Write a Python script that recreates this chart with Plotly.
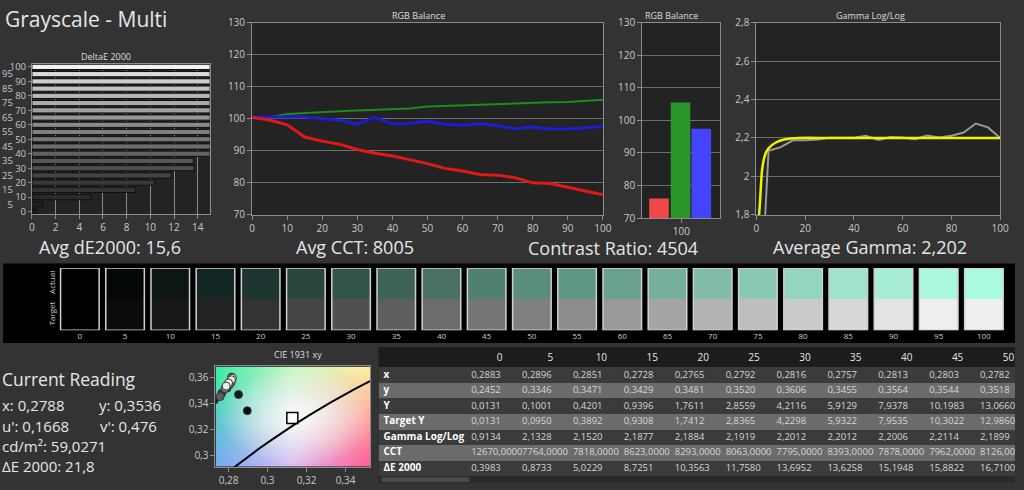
import base64
import plotly.graph_objects as go

# ---------------- data ----------------
LEVELS = [0, 5, 10, 15, 20, 25, 30, 35, 40, 45, 50, 55, 60, 65, 70, 75, 80, 85, 90, 95, 100]
DE2000 = [0.3983, 0.8733, 5.0229, 8.7251, 10.3563, 11.7580, 13.6952, 13.6258, 15.1948, 15.8822,
          16.7100, 17.5, 18.5, 19.5, 20.3, 21.0, 21.8, 22.5, 23.0, 23.4, 21.8]
RED = [100.4, 99.6, 98.1, 94.3, 93.0, 92.0, 90.4, 89.2, 88.4, 87.2, 86.0, 84.5, 83.7, 82.6,
       82.4, 81.6, 80.0, 79.8, 78.7, 77.4, 76.3]
GREEN = [100.3, 100.5, 101.5, 101.7, 102.0, 102.3, 102.6, 102.8, 103.0, 103.2, 103.8, 104.0,
         104.2, 104.5, 104.5, 104.8, 105.0, 105.1, 105.2, 105.6, 105.9]
BLUE = [100.5, 100.4, 100.5, 100.5, 100.1, 99.5, 98.3, 100.4, 98.4, 98.5, 99.2, 98.3, 98.0,
        98.4, 97.8, 96.9, 97.4, 96.8, 96.8, 97.1, 97.6]
BAR_CATEGORY = ["100"]
BAR_RED = [76.0]
BAR_GREEN = [105.5]
BAR_BLUE = [97.4]
GAMMA = [0.9134, 2.1328, 2.1520, 2.1877, 2.1884, 2.1919, 2.2012, 2.2012, 2.2006, 2.2114, 2.1899,
         2.205, 2.202, 2.193, 2.212, 2.203, 2.212, 2.228, 2.275, 2.255, 2.200]
TARGET_GAMMA_X = [1.0, 1.5, 2.4, 3.8, 5.1, 7.8, 11.9, 17.3, 30, 100]
TARGET_GAMMA_Y = [1.78, 1.87, 2.04, 2.12, 2.147, 2.175, 2.193, 2.2, 2.2, 2.2]
CIE_X = [0.2883, 0.2896, 0.2851, 0.2728, 0.2765, 0.2792, 0.2816, 0.2757, 0.2813, 0.2803, 0.2782,
         0.2795, 0.2800, 0.2805, 0.2810, 0.2814, 0.2818, 0.2820, 0.2815, 0.2800, 0.2788]
CIE_Y = [0.2452, 0.3346, 0.3471, 0.3429, 0.3481, 0.3520, 0.3606, 0.3455, 0.3564, 0.3544, 0.3518,
         0.3545, 0.3552, 0.3560, 0.3570, 0.3580, 0.3590, 0.3598, 0.3585, 0.3560, 0.3536]
LOCUS_X = [0.2807, 0.2869, 0.2952, 0.3004, 0.3064, 0.3135, 0.3221, 0.3324, 0.3451, 0.3609]
LOCUS_Y = [0.2884, 0.2956, 0.3048, 0.3103, 0.3166, 0.3236, 0.3318, 0.3410, 0.3516, 0.3640]
WHITE_X = [0.3127]
WHITE_Y = [0.3290]
Y_LUM = [0.0131, 0.1001, 0.4201, 0.9396, 1.7611, 2.8559, 4.2116, 5.9129, 7.9378, 10.1983, 13.0660]
TARGET_Y = [0.0131, 0.0950, 0.3892, 0.9308, 1.7412, 2.8365, 4.2298, 5.9322, 7.9535, 10.3022, 12.9860]
CCT = [12670, 7764, 7818, 8623, 8293, 8063, 7795, 8393, 7878, 7962, 8126]
ROW_LABELS = ["x", "y", "Y", "Target Y", "Gamma Log/Log", "CCT", "ΔE 2000"]
SWATCH_HEIGHT = [1] * 21

# ---------------- styles ----------------
FONT = "Open Sans"
ACTUAL_COLORS = ["#000000", "#030706", "#0c1715", "#132826", "#1c3530", "#28463e", "#33544b",
                 "#3d6257", "#497264", "#508070", "#598c7c", "#5f9684", "#6aa08f", "#75b09d",
                 "#80bca8", "#8ac9b3", "#93d6c0", "#9fe3cc", "#a6ecd6", "#abf8e0", "#a8fae0"]
TARGET_COLORS = ["#000000", "#0b0b0b", "#181818", "#222222", "#333333", "#454545", "#505050",
                 "#5e5e5e", "#6c6c6c", "#767676", "#808080", "#8c8c8c", "#999999", "#a5a5a5",
                 "#b2b2b2", "#bebebe", "#cbcbcb", "#d8d8d8", "#e4e4e4", "#eeeeee", "#efefef"]
DE_BAR_COLORS = ["#1a1a1a", "#202020", "#2a2a2a", "#333333", "#3a3a3a", "#444444", "#4e4e4e",
                 "#585858", "#626262", "#6c6c6c", "#777777", "#818181", "#8b8b8b", "#969696",
                 "#a0a0a0", "#ababab", "#b6b6b6", "#c1c1c1", "#cdcdcd", "#dadada", "#f2f2f2"]

# table geometry (pixel units inside the table area)
TABLE_COL_EDGES = [0, 96.7] + [96.7 + 51.5 * k for k in range(1, 12)]
TABLE_ROW_EDGES = [0, 21, 37, 53, 69, 85, 101, 117, 133]
TABLE_ROW_KIND = [0, 1, 2, 1, 2, 1, 2, 1]   # 0 header, 1 dark row, 2 light row

W, H = 1024, 490


def px(x):
    return x / W


def py(y):
    return 1 - y / H


fig = go.Figure()

# DeltaE bars
fig.add_trace(go.Bar(y=LEVELS, x=DE2000, orientation="h", width=3.6, offset=-1.8,
                     marker=dict(color=DE_BAR_COLORS, line=dict(color="#101010", width=1)),
                     xaxis="x", yaxis="y", hoverinfo="skip"))
fig.add_trace(go.Scatter(x=[0], y=[0], mode="markers", marker=dict(opacity=0),
                         xaxis="x", yaxis="y7", hoverinfo="skip", showlegend=False))

# RGB balance lines
fig.add_trace(go.Scatter(x=LEVELS, y=GREEN, mode="lines", line=dict(color="#1f8a1f", width=2),
                         xaxis="x2", yaxis="y2", hoverinfo="skip"))
fig.add_trace(go.Scatter(x=LEVELS, y=BLUE, mode="lines", line=dict(color="#1c1cd0", width=3),
                         xaxis="x2", yaxis="y2", hoverinfo="skip"))
fig.add_trace(go.Scatter(x=LEVELS, y=RED, mode="lines", line=dict(color="#e01818", width=3),
                         xaxis="x2", yaxis="y2", hoverinfo="skip"))

# RGB balance bars
for vals, col, off in [(BAR_RED, "#f04848", -0.41), (BAR_GREEN, "#2a962a", -0.135),
                       (BAR_BLUE, "#4444ff", 0.13)]:
    fig.add_trace(go.Bar(x=[0], y=vals, width=0.25, offset=off,
                         marker=dict(color=col, line=dict(width=0)),
                         xaxis="x3", yaxis="y3", hoverinfo="skip"))

# Gamma
fig.add_trace(go.Scatter(x=LEVELS, y=GAMMA, mode="lines", line=dict(color="#9a9a9a", width=2),
                         xaxis="x4", yaxis="y4", hoverinfo="skip"))
fig.add_trace(go.Scatter(x=TARGET_GAMMA_X, y=TARGET_GAMMA_Y, mode="lines",
                         line=dict(color="#f2f200", width=2.5, shape="spline", smoothing=0.6),
                         xaxis="x4", yaxis="y4", hoverinfo="skip"))

# CIE
fig.add_trace(go.Scatter(x=LOCUS_X, y=LOCUS_Y, mode="lines", line=dict(color="#000000", width=2),
                         xaxis="x5", yaxis="y5", hoverinfo="skip"))
fig.add_trace(go.Scatter(x=WHITE_X, y=WHITE_Y, mode="markers",
                         marker=dict(symbol="square", size=11, color="rgba(255,255,255,0.35)",
                                     line=dict(color="#000000", width=1.5)),
                         xaxis="x5", yaxis="y5", hoverinfo="skip"))
fig.add_trace(go.Scatter(x=CIE_X, y=CIE_Y, mode="markers",
                         marker=dict(size=8, color=TARGET_COLORS, line=dict(color="#3a3a3a", width=1)),
                         xaxis="x5", yaxis="y5", hoverinfo="skip"))

# Swatches
idx = list(range(len(LEVELS)))
fig.add_trace(go.Bar(x=idx, y=SWATCH_HEIGHT, base=SWATCH_HEIGHT, width=0.853, offset=-0.4265,
                     marker=dict(color=ACTUAL_COLORS, line=dict(width=0)),
                     xaxis="x6", yaxis="y6", hoverinfo="skip"))
fig.add_trace(go.Bar(x=idx, y=SWATCH_HEIGHT, base=[0] * 21, width=0.853, offset=-0.4265,
                     marker=dict(color=TARGET_COLORS, line=dict(width=0)),
                     xaxis="x6", yaxis="y6", hoverinfo="skip"))
fig.add_trace(go.Bar(x=idx, y=[2] * 21, base=[0] * 21, width=0.853, offset=-0.4265,
                     marker=dict(color="rgba(0,0,0,0)", line=dict(color="#d0d0d0", width=1.5)),
                     xaxis="x6", yaxis="y6", hoverinfo="skip"))

# Table: row fills as a heatmap, text as scatter text on the same axes
ncols = len(TABLE_COL_EDGES) - 1
fig.add_trace(go.Heatmap(x=TABLE_COL_EDGES, y=TABLE_ROW_EDGES,
                         z=[[k] * ncols for k in TABLE_ROW_KIND], zmin=0, zmax=2,
                         colorscale=[[0, "#1c1c1c"], [0.5, "#3b3b3b"], [1, "#6b6b6b"]],
                         showscale=False, hoverinfo="skip", xaxis="x8", yaxis="y8"))


def fmt(v):
    return f"{v:.4f}".replace(".", ",")


row_centers = [(TABLE_ROW_EDGES[i] + TABLE_ROW_EDGES[i + 1]) / 2 for i in range(len(TABLE_ROW_EDGES) - 1)]
col_starts = TABLE_COL_EDGES[1:-1]
col_centers = [(TABLE_COL_EDGES[i] + TABLE_COL_EDGES[i + 1]) / 2 for i in range(1, ncols)]
header_levels = LEVELS[:11]
fig.add_trace(go.Scatter(x=col_centers, y=[row_centers[0] + 1] * len(col_centers), mode="text",
                         text=[str(l) for l in header_levels], textposition="middle center",
                         textfont=dict(color="#e6e6e6", size=10, family=FONT),
                         xaxis="x8", yaxis="y8", hoverinfo="skip"))
fig.add_trace(go.Scatter(x=[5] * len(ROW_LABELS), y=row_centers[1:], mode="text",
                         text=["<b>%s</b>" % l for l in ROW_LABELS], textposition="middle right",
                         textfont=dict(color="#ffffff", size=10, family=FONT),
                         xaxis="x8", yaxis="y8", hoverinfo="skip"))
table_rows = [CIE_X[:11], CIE_Y[:11], Y_LUM, TARGET_Y, GAMMA[:11], CCT, DE2000[:11]]
tx, ty, tt = [], [], []
for r, row in enumerate(table_rows):
    for c, v in enumerate(row):
        tx.append(col_starts[c] - 3)
        ty.append(row_centers[r + 1])
        tt.append(fmt(v))
fig.add_trace(go.Scatter(x=tx, y=ty, mode="text", text=tt, textposition="middle right",
                         textfont=dict(color="#d6d6d6", size=9.5, family=FONT),
                         xaxis="x8", yaxis="y8", hoverinfo="skip"))

# ---------------- layout ----------------
tick_font = dict(size=10, color="#c8c8c8", family=FONT)
de_tick_font = dict(size=9.5, color="#c8c8c8", family=FONT)
base_ax = dict(showline=True, mirror=True, linecolor="#8c8c8c", linewidth=1, ticks="outside",
               ticklen=4, tickcolor="#8c8c8c", tickfont=tick_font, gridcolor="#6e6e6e",
               zeroline=False, fixedrange=True)
hidden_ax = dict(visible=False, showgrid=False, zeroline=False, fixedrange=True)

svg = """<svg xmlns="http://www.w3.org/2000/svg" width="160" height="104" viewBox="0 0 160 104" preserveAspectRatio="none">
<defs>
<linearGradient id="b" x1="0" y1="0" x2="1" y2="0"><stop offset="0" stop-color="#74a8f4"/><stop offset="0.5" stop-color="#dcbcf4"/><stop offset="1" stop-color="#ff5a96"/></linearGradient>
<linearGradient id="t" x1="0" y1="0" x2="1" y2="0"><stop offset="0" stop-color="#38f0a0"/><stop offset="0.5" stop-color="#c8f8c4"/><stop offset="1" stop-color="#fff0a0"/></linearGradient>
<linearGradient id="v" x1="0" y1="0" x2="0" y2="1"><stop offset="0" stop-color="#ffffff"/><stop offset="1" stop-color="#000000"/></linearGradient>
<mask id="m"><rect width="160" height="104" fill="url(#v)"/></mask>
<radialGradient id="w" cx="0.53" cy="0.5" r="0.5"><stop offset="0" stop-color="#ffffff" stop-opacity="0.9"/><stop offset="1" stop-color="#ffffff" stop-opacity="0"/></radialGradient>
</defs>
<rect width="160" height="104" fill="url(#b)"/>
<rect width="160" height="104" fill="url(#t)" mask="url(#m)"/>
<rect width="160" height="104" fill="url(#w)"/>
</svg>"""
svg_uri = "data:image/svg+xml;base64," + base64.b64encode(svg.encode()).decode()

CIE_XR = [0.2733, 0.3527]
CIE_YR = [0.2913, 0.3688]


def ann(text, x, y, size, xanchor="center", color="#e6e6e6"):
    return dict(text=text, x=px(x), y=py(y), xref="paper", yref="paper", showarrow=False,
                xanchor=xanchor, yanchor="middle", font=dict(size=size, color=color, family=FONT))


annotations = [
    ann("Grayscale - Multi", 0, 12, 21, "left"),
    ann("DeltaE 2000", 104, 51, 9, color="#dddddd"),
    ann("RGB Balance", 420, 9, 9, color="#dddddd"),
    ann("RGB Balance", 676, 9, 9, color="#dddddd"),
    ann("Gamma Log/Log", 878, 9, 9, color="#dddddd"),
    ann("CIE 1931 xy", 298, 358, 9, color="#dddddd"),
    ann("Avg dE2000: 15,6", 108, 247, 18),
    ann("Avg CCT: 8005", 356, 247, 18),
    ann("Contrast Ratio: 4504", 617, 248, 18),
    ann("Average Gamma: 2,202", 877, 247, 18),
    ann("Current Reading", -3, 383, 17.5, "left"),
    ann("x: 0,2788", -3, 410, 15, "left"),
    ann("y: 0,3536", 95, 410, 15, "left"),
    ann("u': 0,1668", -3, 431, 15, "left"),
    ann("v': 0,476", 96, 431, 15, "left"),
    ann("cd/m²: 59,0271", -3, 452, 15, "left"),
    ann("ΔE 2000: 21,8", -3, 473, 15, "left"),
]

shapes = [
    dict(type="rect", xref="paper", yref="paper", x0=0, x1=1, y0=py(346), y1=py(264),
         fillcolor="#000000", line=dict(width=0), layer="below"),
    dict(type="rect", xref="paper", yref="paper", x0=px(380), x1=1, y0=0, y1=py(483),
         fillcolor="#2a2a2a", line=dict(width=0), layer="above"),
    dict(type="rect", xref="paper", yref="paper", x0=px(383), x1=px(472), y0=py(489), y1=py(484),
         fillcolor="#4a4a4a", line=dict(width=0), layer="above"),
]

fig.update_layout(
    width=W, height=H, margin=dict(l=0, r=0, t=0, b=0, pad=0),
    paper_bgcolor="#333333", plot_bgcolor="#232323",
    showlegend=False, hovermode=False, separators=",.",
    font=dict(family=FONT, color="#c8c8c8"),
    barmode="overlay",
    annotations=annotations, shapes=shapes,
    images=[dict(source=svg_uri, xref="x5", yref="y5", x=CIE_XR[0], y=CIE_YR[1],
                 sizex=CIE_XR[1] - CIE_XR[0], sizey=CIE_YR[1] - CIE_YR[0],
                 xanchor="left", yanchor="top", sizing="stretch", layer="below")],
    xaxis=dict(base_ax, domain=[px(29.3), px(209)], range=[0, 15], tickvals=[0, 2, 4, 6, 8, 10, 12, 14],
               anchor="y", showgrid=True, gridcolor="#8a8a8a"),
    yaxis=dict(base_ax, domain=[py(213), py(59)], range=[-1.6, 101.8],
               tickvals=[0, 10, 20, 30, 40, 50, 60, 70, 80, 90, 100], ticklen=3,
               tickfont=de_tick_font, anchor="x", showgrid=False),
    yaxis7=dict(domain=[py(213), py(59)], range=[-1.6, 101.8], overlaying="y", anchor="x",
                side="left", tickvals=[5, 15, 25, 35, 45, 55, 65, 75, 85, 95], ticks="",
                showline=False, showgrid=False, zeroline=False, tickfont=de_tick_font,
                ticklabelstandoff=18, fixedrange=True),
    xaxis2=dict(base_ax, domain=[px(252), px(607)], range=[0, 100], dtick=10, anchor="y2",
                showgrid=False),
    yaxis2=dict(base_ax, domain=[py(214), py(16)], range=[70, 130], dtick=10, anchor="x2",
                showgrid=True),
    xaxis3=dict(base_ax, domain=[px(646.7), px(726)], range=[-0.5, 0.5], tickvals=[0],
                ticktext=BAR_CATEGORY, anchor="y3", showgrid=False),
    yaxis3=dict(base_ax, domain=[py(217.3), py(16)], range=[70, 130], dtick=10, anchor="x3",
                showgrid=True),
    xaxis4=dict(base_ax, domain=[px(762.3), px(1009)], range=[0, 100], dtick=20, anchor="y4",
                showgrid=False),
    yaxis4=dict(base_ax, domain=[py(214), py(16)], range=[1.8, 2.8], dtick=0.2, anchor="x4",
                showgrid=True),
    xaxis5=dict(base_ax, domain=[px(215), px(371.7)], range=CIE_XR, tick0=0.28, dtick=0.02,
                anchor="y5", showgrid=False),
    yaxis5=dict(base_ax, domain=[py(473.3), py(370)], range=CIE_YR, tick0=0.3, dtick=0.02,
                anchor="x5", showgrid=False),
    xaxis6=dict(domain=[px(54.9), px(1015.4)], range=[-0.5, 20.5], tickvals=idx,
                ticktext=[str(l) for l in LEVELS], anchor="y6", showgrid=False, showline=False,
                zeroline=False, ticks="", tickfont=dict(size=8, color="#cccccc", family=FONT),
                fixedrange=True),
    yaxis6=dict(domain=[py(332.7), py(268.7)], range=[0, 2], tickvals=[0.5, 1.5],
                ticktext=["Target", "Actual"], tickangle=-90, anchor="x6", showgrid=False,
                showline=False, zeroline=False, ticks="",
                tickfont=dict(size=8, color="#cccccc", family=FONT), fixedrange=True),
    xaxis8=dict(hidden_ax, domain=[px(380), 1], range=[0, 644], anchor="y8"),
    yaxis8=dict(hidden_ax, domain=[py(483), py(350)], range=[133, 0], anchor="x8"),
)

fig.write_html("out.html")
